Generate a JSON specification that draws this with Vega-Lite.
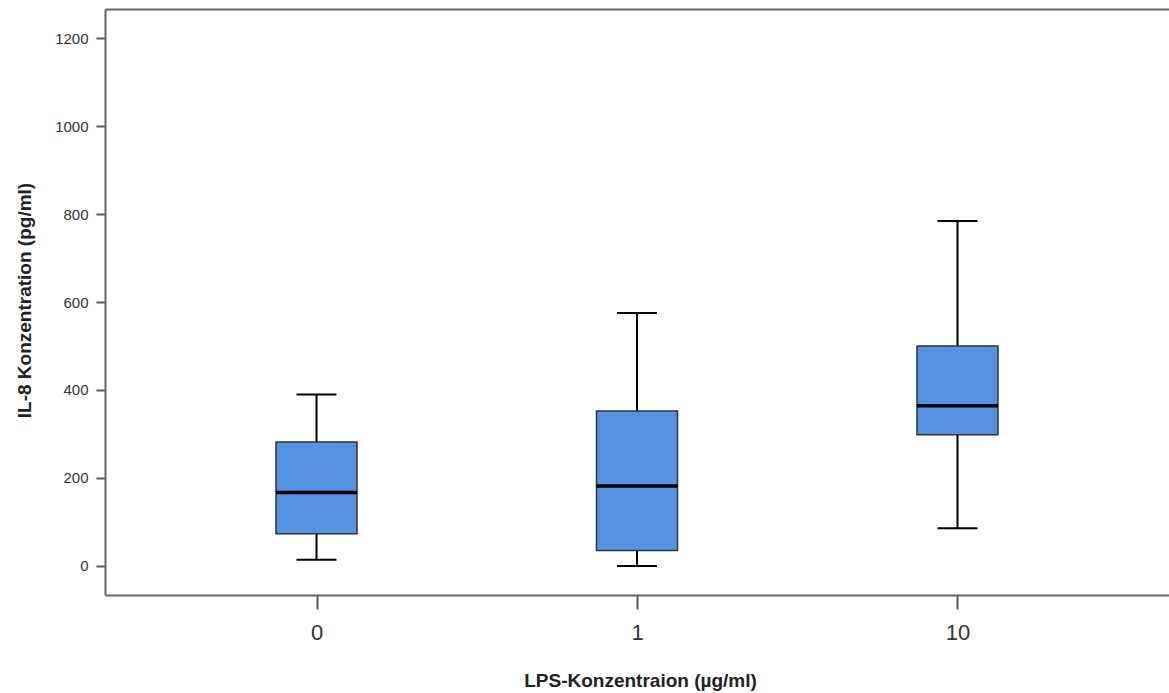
{
  "$schema": "https://vega.github.io/schema/vega-lite/v6.json",
  "autosize": {"type": "none"},
  "padding": {"left": 105, "top": 9, "right": 0, "bottom": 98},
  "width": 1064,
  "height": 586,
  "background": "white",
  "config": {
    "view": {"stroke": null},
    "font": "Liberation Sans",
    "axis": {"grid": false, "domainColor": "#666666", "domainWidth": 2, "tickColor": "#555555", "tickWidth": 2, "labelFont": "Liberation Sans", "titleFont": "Liberation Sans", "labelColor": "#333333", "titleColor": "#222222", "titleFontWeight": "bold"}
  },
  "data": {"values": [
    {"lps": "0", "lower": 14, "q1": 73, "median": 167, "q3": 282, "upper": 390},
    {"lps": "1", "lower": 0, "q1": 35, "median": 182, "q3": 352, "upper": 575},
    {"lps": "10", "lower": 86, "q1": 298, "median": 364, "q3": 500, "upper": 784}
  ]},
  "layer": [
    {
      "mark": {"type": "rule", "color": "black", "strokeWidth": 2},
      "encoding": {
        "x": {"field": "lps", "type": "ordinal", "sort": ["0", "1", "10"], "scale": {"type": "point", "padding": 0.66},
          "axis": {"orient": "bottom", "title": "LPS-Konzentraion (µg/ml)", "labelAngle": 0, "labelFontSize": 22, "tickSize": 14, "labelPadding": 13, "titleFontSize": 19, "titleBaseline": "alphabetic", "titleX": 535, "titleY": 91, "titleAnchor": "middle", "titleAlign": "center"}},
        "y": {"field": "lower", "type": "quantitative", "scale": {"domain": [-66, 1266], "nice": false, "zero": false},
          "axis": {"title": "IL-8 Konzentration (pg/ml)", "format": "d", "values": [0, 200, 400, 600, 800, 1000, 1200], "labelFontSize": 15, "tickSize": 9, "labelPadding": 8, "titleFontSize": 19, "titleAngle": -90, "titleBaseline": "alphabetic", "titleX": -75, "titleY": 291, "titleAlign": "center", "titleAnchor": "middle"}},
        "y2": {"field": "upper"}
      }
    },
    {
      "mark": {"type": "bar", "fill": "#5592E2", "stroke": "#333333", "strokeWidth": 1.5, "size": 81},
      "encoding": {
        "x": {"field": "lps", "type": "ordinal", "sort": ["0", "1", "10"],
          "axis": {"orient": "top", "labels": false, "ticks": false, "title": null, "domain": true}},
        "y": {"field": "q1", "type": "quantitative"},
        "y2": {"field": "q3"}
      }
    },
    {
      "mark": {"type": "tick", "color": "black", "thickness": 3.5, "size": 81, "opacity": 1},
      "encoding": {
        "x": {"field": "lps", "type": "ordinal", "sort": ["0", "1", "10"], "axis": null},
        "y": {"field": "median", "type": "quantitative"}
      }
    },
    {
      "mark": {"type": "tick", "color": "black", "thickness": 2, "size": 40, "opacity": 1},
      "encoding": {
        "x": {"field": "lps", "type": "ordinal", "sort": ["0", "1", "10"], "axis": null},
        "y": {"field": "lower", "type": "quantitative"}
      }
    },
    {
      "mark": {"type": "tick", "color": "black", "thickness": 2, "size": 40, "opacity": 1},
      "encoding": {
        "x": {"field": "lps", "type": "ordinal", "sort": ["0", "1", "10"], "axis": null},
        "y": {"field": "upper", "type": "quantitative"}
      }
    }
  ],
  "resolve": {"axis": {"x": "independent"}}
}
